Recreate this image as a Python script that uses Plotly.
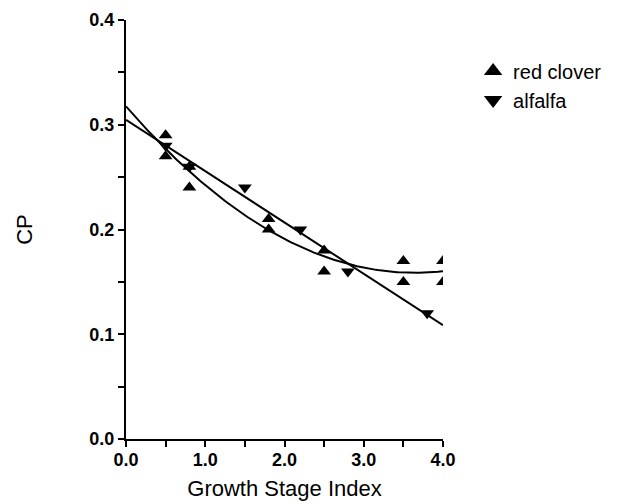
import numpy as np
import plotly.graph_objects as go

# Data
clover_x = [0.5, 0.5, 0.8, 0.8, 1.8, 1.8, 2.5, 2.5, 3.5, 3.5, 4.0, 4.0]
clover_y = [0.29, 0.27, 0.26, 0.24, 0.21, 0.20, 0.18, 0.16, 0.17, 0.15, 0.17, 0.15]
alfalfa_x = [0.5, 0.8, 1.5, 2.2, 2.8, 3.8]
alfalfa_y = [0.28, 0.26, 0.24, 0.20, 0.16, 0.12]

x_ticks = [0, 1, 2, 3, 4]
x_labels = ["0.0", "1.0", "2.0", "3.0", "4.0"]
y_ticks = [0, 0.1, 0.2, 0.3, 0.4]
y_labels = ["0.0", "0.1", "0.2", "0.3", "0.4"]

# Regression fits (quadratic for red clover, linear for alfalfa)
xs = np.linspace(0, 4, 200)
c_fit = np.polyval(np.polyfit(clover_x, clover_y, 2), xs)
a_fit = np.polyval(np.polyfit(alfalfa_x, alfalfa_y, 1), xs)

FONT = "Liberation Sans, Arial, sans-serif"

fig = go.Figure()
fig.add_trace(go.Scatter(x=xs, y=c_fit, mode="lines", line=dict(color="black", width=2),
                         showlegend=False, hoverinfo="skip"))
fig.add_trace(go.Scatter(x=xs, y=a_fit, mode="lines", line=dict(color="black", width=2),
                         showlegend=False, hoverinfo="skip"))
fig.add_trace(go.Scatter(x=clover_x, y=clover_y, mode="markers", name="red clover",
                         legendgroup="rc", showlegend=False,
                         marker=dict(symbol="triangle-up", size=12, color="black")))
fig.add_trace(go.Scatter(x=alfalfa_x, y=alfalfa_y, mode="markers", name="alfalfa",
                         legendgroup="al", showlegend=False,
                         marker=dict(symbol="triangle-down", size=12, color="black")))
# legend entries with larger symbols
fig.add_trace(go.Scatter(x=[None], y=[None], mode="markers", name="red clover",
                         legendgroup="rc",
                         marker=dict(symbol="triangle-up", size=16, color="black")))
fig.add_trace(go.Scatter(x=[None], y=[None], mode="markers", name="alfalfa",
                         legendgroup="al",
                         marker=dict(symbol="triangle-down", size=16, color="black")))

axis_common = dict(showline=True, linecolor="black", linewidth=2, ticks="outside",
                   ticklen=6, tickwidth=2, tickcolor="black", showgrid=False,
                   zeroline=False, automargin=False,
                   tickfont=dict(family=FONT, size=18, color="black", weight="bold"))

fig.update_xaxes(range=[0, 4], tickvals=x_ticks, ticktext=x_labels,
                 minor=dict(dtick=0.5, ticks="outside", ticklen=6, tickwidth=2, tickcolor="black"),
                 title=dict(text="Growth Stage Index", font=dict(family=FONT, size=22, color="black"),
                            standoff=12),
                 ticklabelstandoff=-3,
                 **axis_common)
fig.update_yaxes(range=[0, 0.4], tickvals=y_ticks, ticktext=y_labels,
                 minor=dict(dtick=0.05, ticks="outside", ticklen=6, tickwidth=2, tickcolor="black"),
                 title=dict(text="CP", font=dict(family=FONT, size=22, color="black"), standoff=51),
                 **axis_common)

fig.update_layout(
    width=630, height=502,
    margin=dict(l=118, r=195, t=12, b=71),
    paper_bgcolor="white", plot_bgcolor="white",
    font=dict(family=FONT, color="black"),
    legend=dict(x=1.095, y=0.925, xanchor="left", yanchor="top",
                font=dict(family=FONT, size=20, color="black"),
                tracegroupgap=0, itemsizing="trace", bgcolor="rgba(0,0,0,0)"),
)

fig.write_html("out.html")
